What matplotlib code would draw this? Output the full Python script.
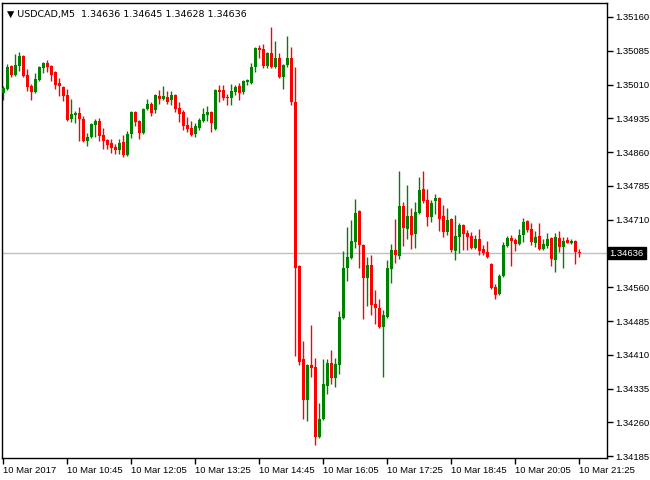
import matplotlib.pyplot as plt
import pandas as pd

plt.rcParams['font.family'] = ['Liberation Sans', 'DejaVu Sans']

# USDCAD M5 candles, 10 Mar 2017 09:25 .. 21:25
opens = [
    1.34991, 1.35000, 1.35051, 1.35031, 1.35051, 1.35073, 1.35031, 1.35007, 1.34993, 1.35020,
    1.35047, 1.35058, 1.35051, 1.35038, 1.35013, 1.35004, 1.34987, 1.34933, 1.34942, 1.34947,
    1.34933, 1.34885, 1.34893, 1.34920, 1.34929, 1.34898, 1.34887, 1.34880, 1.34871, 1.34865,
    1.34882, 1.34853, 1.34900, 1.34949, 1.34929, 1.34902, 1.34956, 1.34967, 1.34953, 1.34984,
    1.34978, 1.34982, 1.34976, 1.34987, 1.34958, 1.34949, 1.34920, 1.34913, 1.34900, 1.34913,
    1.34929, 1.34942, 1.34949, 1.34911, 1.34998, 1.34998, 1.34982, 1.34980, 1.34993, 1.35007,
    1.34993, 1.35016, 1.35013, 1.35049, 1.35091, 1.35089, 1.35051, 1.35080, 1.35049, 1.35069,
    1.35027, 1.35053, 1.35069, 1.34971, 1.34607, 1.34400, 1.34309, 1.34387, 1.34383, 1.34227,
    1.34267, 1.34340, 1.34392, 1.34358, 1.34387, 1.34492, 1.34603, 1.34625, 1.34660, 1.34729,
    1.34654, 1.34580, 1.34609, 1.34523, 1.34514, 1.34472, 1.34494, 1.34600, 1.34643, 1.34629,
    1.34740, 1.34689, 1.34718, 1.34678, 1.34725, 1.34778, 1.34754, 1.34716, 1.34751, 1.34758,
    1.34718, 1.34682, 1.34711, 1.34640, 1.34671, 1.34698, 1.34680, 1.34674, 1.34647, 1.34667,
    1.34645, 1.34638, 1.34611, 1.34560, 1.34545, 1.34585, 1.34651, 1.34669, 1.34665, 1.34656,
    1.34676, 1.34707, 1.34689, 1.34658, 1.34674, 1.34645, 1.34651, 1.34669, 1.34620, 1.34669,
    1.34649, 1.34665, 1.34658, 1.34663, 1.34636,
]
highs = [
    1.35007, 1.35056, 1.35053, 1.35078, 1.35082, 1.35076, 1.35044, 1.35011, 1.35036, 1.35051,
    1.35060, 1.35064, 1.35053, 1.35040, 1.35024, 1.35006, 1.35000, 1.34978, 1.34951, 1.34960,
    1.34940, 1.34902, 1.34925, 1.34933, 1.34936, 1.34913, 1.34889, 1.34889, 1.34878, 1.34889,
    1.34898, 1.34907, 1.34951, 1.34951, 1.34931, 1.34958, 1.34978, 1.34971, 1.34989, 1.34998,
    1.35007, 1.34996, 1.34996, 1.34989, 1.34971, 1.34953, 1.34938, 1.34929, 1.34925, 1.34936,
    1.34958, 1.34962, 1.34951, 1.34999, 1.35009, 1.35009, 1.34989, 1.35011, 1.35009, 1.35013,
    1.35020, 1.35022, 1.35058, 1.35093, 1.35098, 1.35100, 1.35082, 1.35138, 1.35107, 1.35080,
    1.35056, 1.35118, 1.35093, 1.35049, 1.34609, 1.34440, 1.34389, 1.34476, 1.34403, 1.34303,
    1.34400, 1.34400, 1.34420, 1.34403, 1.34507, 1.34640, 1.34694, 1.34709, 1.34756, 1.34731,
    1.34656, 1.34627, 1.34631, 1.34554, 1.34534, 1.34509, 1.34620, 1.34656, 1.34711, 1.34818,
    1.34749, 1.34787, 1.34736, 1.34749, 1.34805, 1.34818, 1.34778, 1.34754, 1.34767, 1.34760,
    1.34742, 1.34736, 1.34713, 1.34720, 1.34702, 1.34700, 1.34687, 1.34682, 1.34676, 1.34689,
    1.34654, 1.34663, 1.34613, 1.34567, 1.34589, 1.34660, 1.34674, 1.34676, 1.34669, 1.34689,
    1.34714, 1.34709, 1.34702, 1.34685, 1.34702, 1.34667, 1.34680, 1.34671, 1.34680, 1.34685,
    1.34671, 1.34671, 1.34667, 1.34665, 1.34645,
]
lows = [
    1.34976, 1.34998, 1.35027, 1.35029, 1.35040, 1.35027, 1.34996, 1.34976, 1.34991, 1.35018,
    1.35036, 1.35038, 1.35018, 1.35000, 1.34984, 1.34973, 1.34929, 1.34927, 1.34925, 1.34885,
    1.34882, 1.34873, 1.34891, 1.34893, 1.34885, 1.34867, 1.34867, 1.34858, 1.34856, 1.34856,
    1.34849, 1.34851, 1.34891, 1.34918, 1.34889, 1.34900, 1.34953, 1.34940, 1.34947, 1.34967,
    1.34976, 1.34967, 1.34965, 1.34949, 1.34927, 1.34909, 1.34905, 1.34896, 1.34893, 1.34909,
    1.34927, 1.34929, 1.34905, 1.34909, 1.34971, 1.34976, 1.34965, 1.34965, 1.34987, 1.34976,
    1.34989, 1.35009, 1.35011, 1.35038, 1.35069, 1.35047, 1.35047, 1.35047, 1.35047, 1.35025,
    1.35000, 1.35049, 1.34965, 1.34407, 1.34387, 1.34267, 1.34263, 1.34360, 1.34209, 1.34225,
    1.34265, 1.34323, 1.34345, 1.34338, 1.34367, 1.34490, 1.34574, 1.34623, 1.34647, 1.34603,
    1.34489, 1.34518, 1.34498, 1.34478, 1.34469, 1.34360, 1.34492, 1.34569, 1.34614, 1.34623,
    1.34651, 1.34667, 1.34645, 1.34647, 1.34722, 1.34747, 1.34696, 1.34705, 1.34722, 1.34685,
    1.34671, 1.34676, 1.34638, 1.34620, 1.34636, 1.34643, 1.34643, 1.34645, 1.34645, 1.34631,
    1.34631, 1.34625, 1.34556, 1.34534, 1.34543, 1.34583, 1.34649, 1.34607, 1.34640, 1.34654,
    1.34660, 1.34682, 1.34654, 1.34649, 1.34643, 1.34643, 1.34647, 1.34607, 1.34594, 1.34638,
    1.34603, 1.34658, 1.34656, 1.34611, 1.34628,
]
closes = [
    1.35002, 1.35049, 1.35031, 1.35053, 1.35073, 1.35029, 1.35004, 1.34993, 1.35022, 1.35049,
    1.35058, 1.35049, 1.35031, 1.35009, 1.35007, 1.34984, 1.34931, 1.34945, 1.34947, 1.34933,
    1.34885, 1.34893, 1.34922, 1.34929, 1.34896, 1.34885, 1.34876, 1.34869, 1.34865, 1.34880,
    1.34853, 1.34900, 1.34949, 1.34927, 1.34902, 1.34956, 1.34967, 1.34947, 1.34987, 1.34978,
    1.34984, 1.34971, 1.34987, 1.34956, 1.34945, 1.34918, 1.34911, 1.34898, 1.34918, 1.34931,
    1.34945, 1.34949, 1.34925, 1.34998, 1.34993, 1.34980, 1.34980, 1.34996, 1.35004, 1.34991,
    1.35018, 1.35020, 1.35049, 1.35091, 1.35087, 1.35051, 1.35080, 1.35049, 1.35069, 1.35027,
    1.35053, 1.35069, 1.34971, 1.34603, 1.34394, 1.34309, 1.34387, 1.34380, 1.34227, 1.34267,
    1.34345, 1.34392, 1.34358, 1.34389, 1.34494, 1.34603, 1.34627, 1.34663, 1.34725, 1.34654,
    1.34580, 1.34609, 1.34520, 1.34514, 1.34472, 1.34498, 1.34603, 1.34643, 1.34631, 1.34740,
    1.34691, 1.34718, 1.34676, 1.34727, 1.34776, 1.34751, 1.34716, 1.34747, 1.34758, 1.34711,
    1.34682, 1.34709, 1.34643, 1.34674, 1.34698, 1.34678, 1.34671, 1.34647, 1.34667, 1.34640,
    1.34636, 1.34627, 1.34558, 1.34543, 1.34585, 1.34654, 1.34669, 1.34663, 1.34656, 1.34676,
    1.34705, 1.34687, 1.34660, 1.34671, 1.34645, 1.34656, 1.34667, 1.34623, 1.34671, 1.34649,
    1.34663, 1.34658, 1.34663, 1.34638, 1.34636,
]

times = pd.date_range("2017-03-10 09:25", periods=len(opens), freq="5min")
df = pd.DataFrame({"open": opens, "high": highs, "low": lows, "close": closes}, index=times)

up_color = "#008000"
down_color = "#ff0000"

fig = plt.figure(figsize=(6.5, 4.8), dpi=100)
ax = fig.add_axes([2 / 650, 22 / 480, 605 / 650, 455 / 480])

x = range(len(df))
colors = [up_color if c > o else down_color for o, c in zip(df["open"], df["close"])]
bottoms = [min(o, c) for o, c in zip(df["open"], df["close"])]
heights = [max(abs(c - o), 0.000012) for o, c in zip(df["open"], df["close"])]

ax.vlines(x, df["low"], df["high"], colors=colors, linewidth=1, zorder=2)
ax.bar(x, heights, bottom=bottoms, width=0.75, color=colors, linewidth=0, zorder=3)

last = df["close"].iloc[-1]
ax.axhline(last, color="#c0c0c0", linewidth=1, zorder=1)

ax.set_xlim(-0.25, 151)
ax.set_ylim(1.34181, 1.35191)

# y axis on the right, MT4 style
yticks = [1.35160 - 0.00075 * k for k in range(14)]
yticks = [t for t in yticks if abs(t - last) > 0.0002]
ax.yaxis.tick_right()
ax.set_yticks(yticks)
ax.set_yticklabels([f"{t:.5f}" for t in yticks])
ax.tick_params(axis="y", direction="out", length=4, width=1, pad=2, labelsize=6.8, colors="black")

ax.annotate(f"{last:.5f}", xy=(1.0, last), xycoords=("axes fraction", "data"),
            xytext=(2, 0), textcoords="offset points", ha="left", va="center",
            fontsize=6.8, color="white",
            bbox=dict(boxstyle="square,pad=0.2", fc="black", ec="black"))

# time axis
step = 16
tick_pos = list(range(0, len(df), step))
tick_lab = []
for i in tick_pos:
    t = df.index[i]
    tick_lab.append(t.strftime("%d %b %Y") if i == 0 else t.strftime("%d %b %H:%M"))
ax.set_xticks(tick_pos)
ax.set_xticklabels(tick_lab, ha="left")
ax.tick_params(axis="x", direction="out", length=4, width=1, pad=2, labelsize=6.8)

for s in ax.spines.values():
    s.set_color("black")
    s.set_linewidth(1)

o, h, l, c = df.iloc[-1]
ax.text(0.008, 0.985, f"\u25bc USDCAD,M5  {o:.5f} {h:.5f} {l:.5f} {c:.5f}",
        transform=ax.transAxes, ha="left", va="top", fontsize=6.8, color="black",
        family=["DejaVu Sans"])

fig.savefig("out.png", dpi=100)
